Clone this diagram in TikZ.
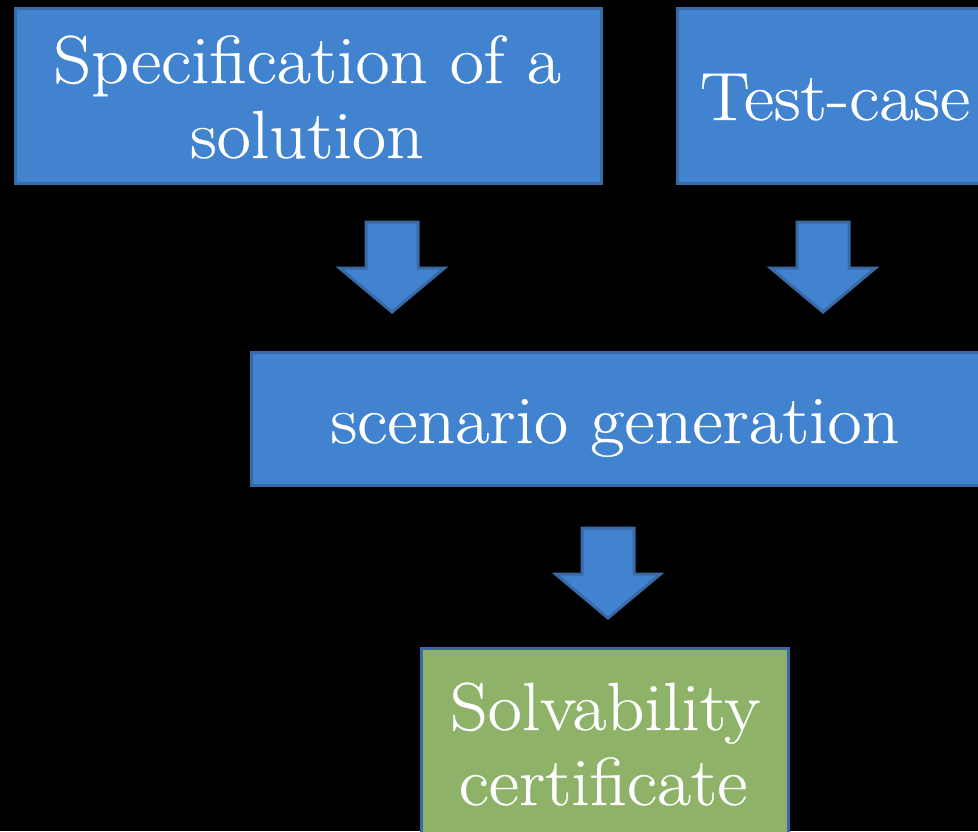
\documentclass[tikz,border=0pt]{standalone}
\usepackage{fontspec}
\setmainfont{Latin Modern Roman}[FakeStretch=1.09, FakeBold=0.4]
\definecolor{boxblue}{RGB}{66,131,208}
\definecolor{boxline}{RGB}{58,106,166}
\definecolor{boxgreen}{RGB}{143,178,105}
\tikzset{
  box/.style={draw=boxline, line width=3pt, fill=boxblue, inner sep=0pt, anchor=north west},
  lbl/.style={text=white, inner sep=0pt, anchor=base, font=\fontsize{68}{75}\selectfont},
  blockarrow/.style={draw=boxline, line width=3pt, fill=boxblue, line join=miter},
  downarrow/.pic={\draw[blockarrow] (-26,0) -- (26,0) -- (26,46) -- (52.5,46) -- (0,90) -- (-52.5,46) -- (-26,46) -- cycle;}
}
\begin{document}
\begin{tikzpicture}[x=1pt,y=-1pt]
\useasboundingbox (0,0) rectangle (978,831);
\fill[black] (0,0) rectangle (978,831);
\begin{scope}
\clip (0,0) rectangle (978,831);
\node[box, minimum width=586pt, minimum height=175pt] (spec) at (14,7) {};
\node[box, minimum width=330pt, minimum height=175pt] (test) at (676,7) {};
\node[box, minimum width=760pt, minimum height=133pt] (scen) at (250,351) {};
\node[box, fill=boxgreen, minimum width=367pt, minimum height=250pt] (solv) at (420,647) {};
\node[lbl] (spec1) at (307,83) {Specification of a};
\node[lbl] (spec2) at (307,158) {solution};
\node[lbl] (testl) at (835,120) {Test-case};
\node[lbl] (scenl) at (615,443) {scenario generation};
\node[lbl] (solv1) at (605,730) {Solvability};
\node[lbl] (solv2) at (603,805) {certificate};
\pic (a1) at (392,222) {downarrow};
\pic (a2) at (823,222) {downarrow};
\pic (a3) at (608,528) {downarrow};
\end{scope}
\end{tikzpicture}
\end{document}
